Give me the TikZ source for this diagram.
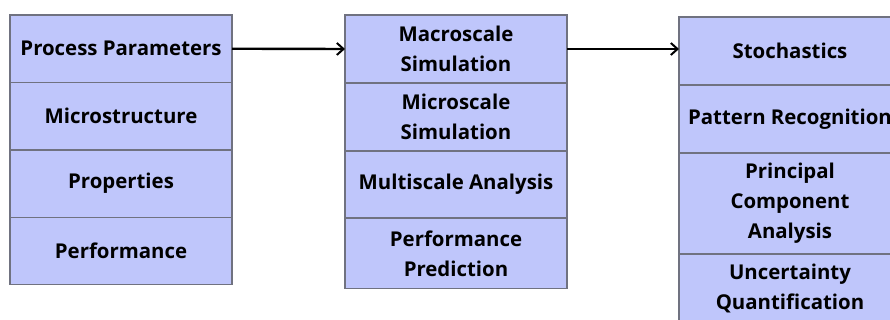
\documentclass[tikz,border=0pt]{standalone}
\usepackage{fontspec}
\setmainfont{Open Sans}
\usetikzlibrary{positioning}
\usetikzlibrary{arrows.meta}

\definecolor{cellfill}{RGB}{191,198,251}
\definecolor{cellline}{RGB}{112,114,128}

\tikzset{
  cell/.style={draw=cellline, fill=cellfill, line width=0.9pt, inner sep=0pt, outer sep=0pt,
    minimum width=166.5pt, align=center,
    font=\bfseries\fontsize{15.3}{22.5}\selectfont},
  link/.style={line width=1.8pt, -{Straight Barb[length=5pt,width=9pt,line width=1.5pt]}}
}

\begin{document}
\begin{tikzpicture}[x=0.75pt,y=0.75pt,yscale=-1,xscale=1]
\useasboundingbox (0,0) rectangle (890,320);
\clip (0,0) rectangle (890,320);

% first column
\node [cell, minimum height=50.6pt, anchor=north west] (pp) at (10,15) {Process Parameters};
\node [cell, minimum height=50.6pt, below=0pt of pp] (micro) {Microstructure};
\node [cell, minimum height=50.6pt, below=0pt of micro] (prop) {Properties};
\node [cell, minimum height=50.6pt, below=0pt of prop] (perf) {Performance};

% second column
\node [cell, minimum height=51pt, anchor=north west] (macsim) at (345,15) {Macroscale\\Simulation};
\node [cell, minimum height=51pt, below=0pt of macsim] (micsim) {Microscale\\Simulation};
\node [cell, minimum height=50.3pt, below=0pt of micsim] (multi) {Multiscale Analysis};
\node [cell, minimum height=53pt, below=0pt of multi] (pred) {Performance\\Prediction};

% third column
\node [cell, minimum height=51pt, anchor=north west] (stoch) at (679,17) {Stochastics};
\node [cell, minimum height=51pt, below=0pt of stoch] (pattern) {Pattern Recognition};
\node [cell, minimum height=75.8pt, below=0pt of pattern] (pca) {Principal\\Component\\Analysis};
\node [cell, minimum height=51pt, below=0pt of pca] (uq) {Uncertainty\\Quantification};

% arrows
\draw [link] (pp.east) -- (macsim.west);
\draw [link] (macsim.east) -- (macsim.east -| stoch.west);

\end{tikzpicture}
\end{document}
